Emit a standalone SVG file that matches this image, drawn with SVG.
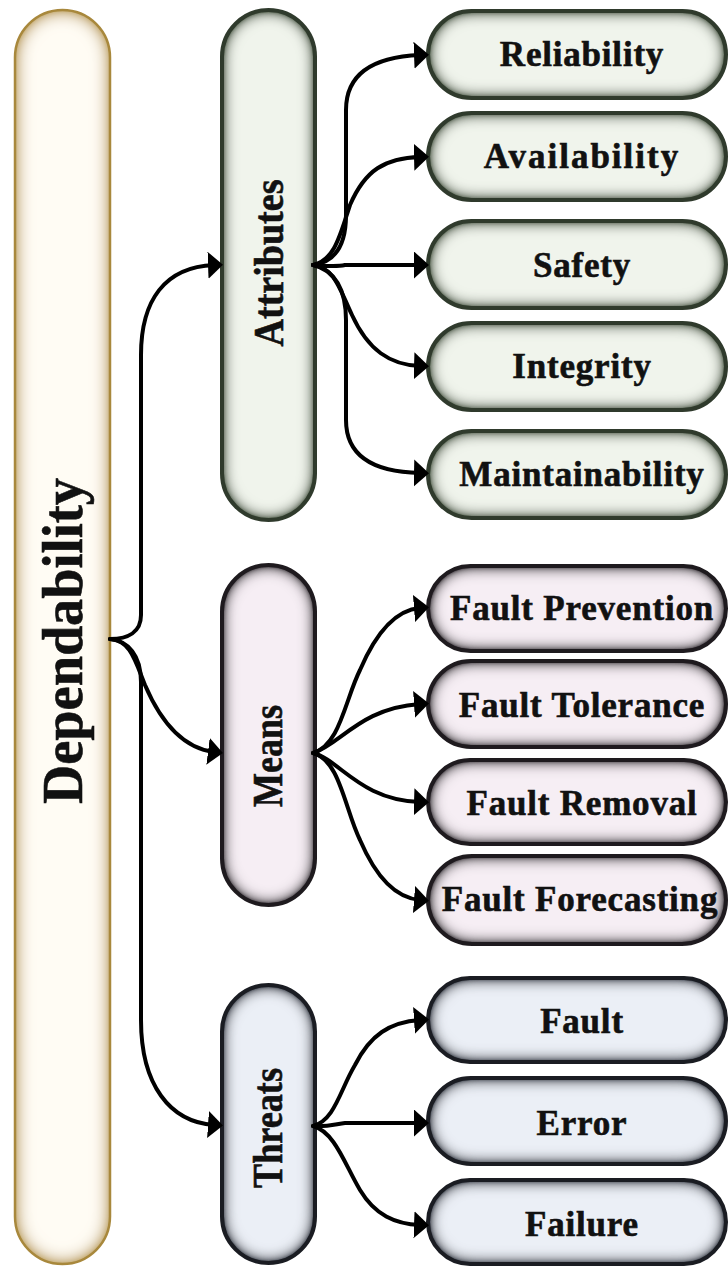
<svg xmlns="http://www.w3.org/2000/svg" width="728" height="1266" viewBox="0 0 728 1266">
  <style>
    .lbl { font-family: "Liberation Serif", "Times New Roman", serif; font-weight: bold; fill: #111; stroke: #111; stroke-width: 0.6; }
    .item { font-size: 35px; letter-spacing: 0.8px; text-anchor: middle; }
    .side { font-size: 43px; text-anchor: middle; }
    .gold-f { fill: #fffcf4; }
    .green-f { fill: #f0f4ec; }
    .pink-f { fill: #f6eef4; }
    .blue-f { fill: #ebeff6; }
    .gold-s { fill: none; stroke: #a8883c; stroke-width: 2.5; }
    .green-s { fill: none; stroke: #2f3a2c; stroke-width: 4; }
    .pink-s { fill: none; stroke: #1e1a1e; stroke-width: 4; }
    .blue-s { fill: none; stroke: #1a1c22; stroke-width: 4; }
    .link { fill: none; stroke: #000; stroke-width: 4; stroke-linecap: round; marker-end: url(#head); }
  </style>
  <defs>
    <marker id="head" markerUnits="userSpaceOnUse" markerWidth="16" markerHeight="28" refX="6" refY="13.5" orient="auto">
      <path d="M0,0 L15,13.5 L0,27 z" fill="#000"/>
    </marker>
    <!-- inner shading along the edge of each capsule -->
    <filter id="glow-gold" x="-5%" y="-5%" width="110%" height="110%">
      <feGaussianBlur in="SourceAlpha" stdDeviation="9" result="b"/>
      <feComposite in="SourceAlpha" in2="b" operator="out" result="e0"/>
      <feComponentTransfer in="e0" result="edge"><feFuncA type="linear" slope="2"/></feComponentTransfer>
      <feFlood flood-color="#c9b07a"/>
      <feComposite in2="edge" operator="in" result="shade"/>
      <feMerge><feMergeNode in="SourceGraphic"/><feMergeNode in="shade"/></feMerge>
    </filter>
    <filter id="glow-green" x="-5%" y="-5%" width="110%" height="110%">
      <feGaussianBlur in="SourceAlpha" stdDeviation="8" result="b"/>
      <feComposite in="SourceAlpha" in2="b" operator="out" result="e0"/>
      <feComponentTransfer in="e0" result="edge"><feFuncA type="linear" slope="2.2"/></feComponentTransfer>
      <feFlood flood-color="#5a6854"/>
      <feComposite in2="edge" operator="in" result="shade"/>
      <feMerge><feMergeNode in="SourceGraphic"/><feMergeNode in="shade"/></feMerge>
    </filter>
    <filter id="glow-pink" x="-5%" y="-5%" width="110%" height="110%">
      <feGaussianBlur in="SourceAlpha" stdDeviation="8" result="b"/>
      <feComposite in="SourceAlpha" in2="b" operator="out" result="e0"/>
      <feComponentTransfer in="e0" result="edge"><feFuncA type="linear" slope="2.2"/></feComponentTransfer>
      <feFlood flood-color="#443e44"/>
      <feComposite in2="edge" operator="in" result="shade"/>
      <feMerge><feMergeNode in="SourceGraphic"/><feMergeNode in="shade"/></feMerge>
    </filter>
    <filter id="glow-blue" x="-5%" y="-5%" width="110%" height="110%">
      <feGaussianBlur in="SourceAlpha" stdDeviation="8" result="b"/>
      <feComposite in="SourceAlpha" in2="b" operator="out" result="e0"/>
      <feComponentTransfer in="e0" result="edge"><feFuncA type="linear" slope="2.2"/></feComponentTransfer>
      <feFlood flood-color="#404652"/>
      <feComposite in2="edge" operator="in" result="shade"/>
      <feMerge><feMergeNode in="SourceGraphic"/><feMergeNode in="shade"/></feMerge>
    </filter>
  </defs>

  <rect width="728" height="1266" fill="#fff"/>

  <!-- root -->
  <g id="dependability">
    <rect class="gold-f" filter="url(#glow-gold)" x="15" y="10" width="95" height="1254" rx="47.5"/>
    <rect class="gold-s" x="15" y="10" width="95" height="1254" rx="47.5"/>
    <text class="lbl side" style="font-size:58px" textLength="326" lengthAdjust="spacingAndGlyphs" transform="translate(82,641) rotate(-90)">Dependability</text>
  </g>

  <!-- categories -->
  <g id="attributes">
    <rect class="green-f" filter="url(#glow-green)" x="222" y="10" width="93" height="510" rx="46.5"/>
    <rect class="green-s" x="222" y="10" width="93" height="510" rx="46.5"/>
    <text class="lbl side" textLength="167" lengthAdjust="spacingAndGlyphs" transform="translate(283,263) rotate(-90)">Attributes</text>
  </g>
  <g id="means">
    <rect class="pink-f" filter="url(#glow-pink)" x="222" y="565" width="93" height="340" rx="46.5"/>
    <rect class="pink-s" x="222" y="565" width="93" height="340" rx="46.5"/>
    <text class="lbl side" textLength="102" lengthAdjust="spacingAndGlyphs" transform="translate(282,756) rotate(-90)">Means</text>
  </g>
  <g id="threats">
    <rect class="blue-f" filter="url(#glow-blue)" x="222" y="985" width="93" height="278" rx="46.5"/>
    <rect class="blue-s" x="222" y="985" width="93" height="278" rx="46.5"/>
    <text class="lbl side" textLength="120" lengthAdjust="spacingAndGlyphs" transform="translate(282,1128) rotate(-90)">Threats</text>
  </g>

  <!-- attributes -->
  <g id="reliability">
    <rect class="green-f" filter="url(#glow-green)" x="428" y="11" width="298" height="87" rx="43.5"/>
    <rect class="green-s" x="428" y="11" width="298" height="87" rx="43.5"/>
    <text class="lbl item" x="582" y="66">Reliability</text>
  </g>
  <g id="availability">
    <rect class="green-f" filter="url(#glow-green)" x="428" y="113" width="298" height="87" rx="43.5"/>
    <rect class="green-s" x="428" y="113" width="298" height="87" rx="43.5"/>
    <text class="lbl item" x="582" y="168" style="letter-spacing:2px">Availability</text>
  </g>
  <g id="safety">
    <rect class="green-f" filter="url(#glow-green)" x="428" y="221" width="298" height="87" rx="43.5"/>
    <rect class="green-s" x="428" y="221" width="298" height="87" rx="43.5"/>
    <text class="lbl item" x="582" y="277">Safety</text>
  </g>
  <g id="integrity">
    <rect class="green-f" filter="url(#glow-green)" x="428" y="323" width="298" height="87" rx="43.5"/>
    <rect class="green-s" x="428" y="323" width="298" height="87" rx="43.5"/>
    <text class="lbl item" x="582" y="378">Integrity</text>
  </g>
  <g id="maintainability">
    <rect class="green-f" filter="url(#glow-green)" x="428" y="431" width="298" height="87" rx="43.5"/>
    <rect class="green-s" x="428" y="431" width="298" height="87" rx="43.5"/>
    <text class="lbl item" x="582" y="486">Maintainability</text>
  </g>

  <!-- means -->
  <g id="fault-prevention">
    <rect class="pink-f" filter="url(#glow-pink)" x="428" y="566" width="298" height="85" rx="42.5"/>
    <rect class="pink-s" x="428" y="566" width="298" height="85" rx="42.5"/>
    <text class="lbl item" x="582" y="620">Fault Prevention</text>
  </g>
  <g id="fault-tolerance">
    <rect class="pink-f" filter="url(#glow-pink)" x="428" y="661" width="298" height="86" rx="43"/>
    <rect class="pink-s" x="428" y="661" width="298" height="86" rx="43"/>
    <text class="lbl item" x="582" y="717">Fault Tolerance</text>
  </g>
  <g id="fault-removal">
    <rect class="pink-f" filter="url(#glow-pink)" x="428" y="760" width="298" height="84" rx="42"/>
    <rect class="pink-s" x="428" y="760" width="298" height="84" rx="42"/>
    <text class="lbl item" x="582" y="815">Fault Removal</text>
  </g>
  <g id="fault-forecasting">
    <rect class="pink-f" filter="url(#glow-pink)" x="428" y="856" width="298" height="88" rx="44"/>
    <rect class="pink-s" x="428" y="856" width="298" height="88" rx="44"/>
    <text class="lbl item" x="580" y="911">Fault Forecasting</text>
  </g>

  <!-- threats -->
  <g id="fault">
    <rect class="blue-f" filter="url(#glow-blue)" x="428" y="978" width="298" height="84" rx="42"/>
    <rect class="blue-s" x="428" y="978" width="298" height="84" rx="42"/>
    <text class="lbl item" x="582" y="1033">Fault</text>
  </g>
  <g id="error">
    <rect class="blue-f" filter="url(#glow-blue)" x="428" y="1078" width="298" height="86" rx="43"/>
    <rect class="blue-s" x="428" y="1078" width="298" height="86" rx="43"/>
    <text class="lbl item" x="582" y="1135">Error</text>
  </g>
  <g id="failure">
    <rect class="blue-f" filter="url(#glow-blue)" x="428" y="1180" width="298" height="84" rx="42"/>
    <rect class="blue-s" x="428" y="1180" width="298" height="84" rx="42"/>
    <text class="lbl item" x="582" y="1236">Failure</text>
  </g>

  <!-- connectors -->
  <g id="connectors">
    <path class="link" d="M110,639 C128,639 141,632 141,615 L141,355 C141,300 165,267 214,265"/>
    <path class="link" d="M110,639 C130,640 135,660 145,685 C160,720 182,748 214,752"/>
    <path class="link" d="M110,639 C128,641 141,655 141,682 L141,1020 C141,1085 170,1122 214,1125"/>

    <path class="link" d="M313,265 C335,262 346,245 346,215 L346,110 C346,75 372,57 420,55"/>
    <path class="link" d="M313,265 C335,260 340,235 350,205 C365,170 385,158 420,157"/>
    <path class="link" d="M313,265 C328,266 336,267 345,265 L420,265"/>
    <path class="link" d="M313,265 C335,268 340,290 352,315 C368,350 390,365 420,366"/>
    <path class="link" d="M313,265 C335,270 346,290 346,320 L346,420 C346,455 372,472 420,473"/>

    <path class="link" d="M313,753 C340,745 345,700 360,670 C375,635 395,610 420,608"/>
    <path class="link" d="M313,753 C340,745 360,708 420,704"/>
    <path class="link" d="M313,753 C340,760 360,800 420,802"/>
    <path class="link" d="M313,753 C340,760 345,810 360,840 C375,875 395,898 420,900"/>

    <path class="link" d="M313,1126 C335,1120 340,1090 355,1065 C370,1035 390,1022 420,1020"/>
    <path class="link" d="M313,1126 C328,1127 336,1124 345,1123 L420,1123"/>
    <path class="link" d="M313,1126 C335,1132 345,1165 360,1190 C375,1215 395,1224 420,1225"/>
  </g>
</svg>
